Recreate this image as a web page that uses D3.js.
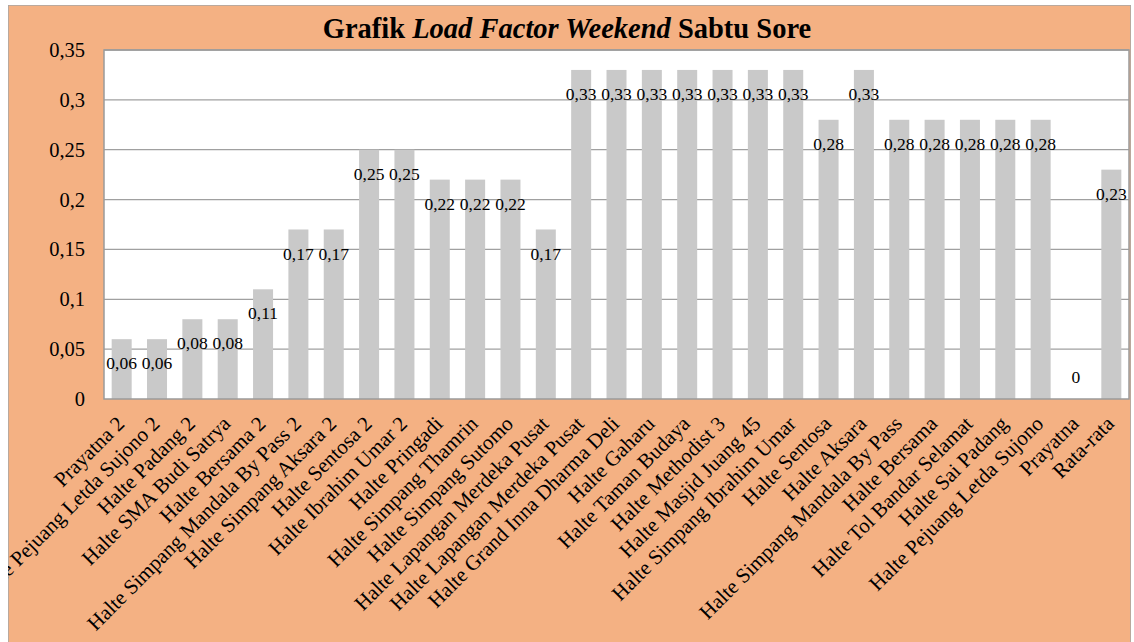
<!DOCTYPE html>
<html><head><meta charset="utf-8">
<script src="https://cdn.jsdelivr.net/npm/d3@7/dist/d3.min.js"></script>
<style>html,body{margin:0;padding:0;background:#fff;}svg{display:block;}</style>
</head><body>
<script>
const categories = ["Prayatna 2","Halte Pejuang Letda Sujono 2","Halte Padang 2","Halte SMA Budi Satrya","Halte Bersama 2","Halte Simpang Mandala By Pass 2","Halte Simpang Aksara 2","Halte Sentosa 2","Halte Ibrahim Umar 2","Halte Pringadi","Halte Simpang Thamrin","Halte Simpang Sutomo","Halte Lapangan Merdeka Pusat","Halte Lapangan Merdeka Pusat","Halte Grand Inna Dharma Deli","Halte Gaharu","Halte Taman Budaya","Halte Methodist 3","Halte Masjid Juang 45","Halte Simpang Ibrahim Umar","Halte Sentosa","Halte Aksara","Halte Simpang Mandala By Pass","Halte Bersama","Halte Tol Bandar Selamat","Halte Sai Padang","Halte Pejuang Letda Sujono","Prayatna","Rata-rata"];
const values = [0.06,0.06,0.08,0.08,0.11,0.17,0.17,0.25,0.25,0.22,0.22,0.22,0.17,0.33,0.33,0.33,0.33,0.33,0.33,0.33,0.28,0.33,0.28,0.28,0.28,0.28,0.28,0,0.23];
const yTicks = [0,0.05,0.1,0.15,0.2,0.25,0.3,0.35];

const W = 1134, H = 642;
const chart = {x:8, y:5, w:1123, h:650};
const plot = {l:104, t:50, r:1129, b:399};
const fmt = v => String(v).replace(".", ",");
const font = "'Liberation Serif','Times New Roman',serif";

const svg = d3.select("body").append("svg").attr("width", W).attr("height", H);
svg.append("defs").append("clipPath").attr("id","cc").append("rect")
  .attr("x", chart.x).attr("y", chart.y).attr("width", chart.w).attr("height", chart.h);

const g = svg.append("g").attr("clip-path","url(#cc)");
g.append("rect").attr("x", chart.x).attr("y", chart.y).attr("width", chart.w).attr("height", chart.h)
  .attr("fill", "#F4B183").attr("stroke", "#a6a6a6").attr("stroke-width", 1.5);

const x = d3.scaleBand().domain(d3.range(categories.length)).range([plot.l, plot.r])
  .paddingInner(0.434).paddingOuter(0.217);
const y = d3.scaleLinear().domain([0, 0.35]).range([plot.b, plot.t]);

g.append("rect").attr("x", plot.l).attr("y", plot.t).attr("width", plot.r - plot.l).attr("height", plot.b - plot.t)
  .attr("fill", "#fff");

// gridlines
g.append("g").selectAll("line").data(yTicks.filter(d => d > 0)).join("line")
  .attr("x1", plot.l).attr("x2", plot.r).attr("y1", d => y(d)).attr("y2", d => y(d))
  .attr("stroke", "#a0a0a0").attr("stroke-width", 1.3);

// bars
g.append("g").selectAll("rect").data(values).join("rect")
  .attr("x", (d, i) => x(i)).attr("width", x.bandwidth())
  .attr("y", d => y(d)).attr("height", d => y(0) - y(d))
  .attr("fill", "#C9C9C9");

// plot border
g.append("rect").attr("x", plot.l).attr("y", plot.t).attr("width", plot.r - plot.l).attr("height", plot.b - plot.t)
  .attr("fill", "none").attr("stroke", "#9a9a9a").attr("stroke-width", 1.5);

// value labels
g.append("g").selectAll("text").data(values).join("text")
  .attr("x", (d, i) => x(i) + x.bandwidth() / 2)
  .attr("y", d => d > 0 ? y(d) + 24 : y(d) - 22)
  .attr("dy", "0.35em")
  .attr("text-anchor", "middle")
  .style("font-family", font).style("font-size", "17.5px").attr("fill", "#000")
  .text(d => fmt(d));

// y axis
const yAxis = d3.axisLeft(y).tickValues(yTicks).tickSize(0).tickPadding(19).tickFormat(fmt);
const ya = g.append("g").attr("transform", `translate(${plot.l},0)`).call(yAxis);
ya.select(".domain").remove();
ya.selectAll("text").style("font-family", font).style("font-size", "20.5px").attr("fill", "#000");

// x axis
const xAxis = d3.axisBottom(x).tickSize(0).tickFormat(i => categories[i]);
const xa = g.append("g").attr("transform", `translate(0,${plot.b})`).call(xAxis);
xa.select(".domain").remove();
xa.selectAll("text")
  .attr("text-anchor", "end")
  .attr("transform", "translate(4,26) rotate(-45)")
  .attr("x", 0).attr("y", 0).attr("dy", "0")
  .style("font-family", font).style("font-size", "21px").attr("fill", "#000");

// title
const title = g.append("text").attr("x", 567).attr("y", 38).attr("text-anchor", "middle")
  .style("font-family", font).style("font-size", "28.5px").style("font-weight", "bold").attr("fill", "#000");
title.append("tspan").text("Grafik ");
title.append("tspan").style("font-style", "italic").text("Load Factor Weekend");
title.append("tspan").text(" Sabtu Sore");
</script>
</body></html>
